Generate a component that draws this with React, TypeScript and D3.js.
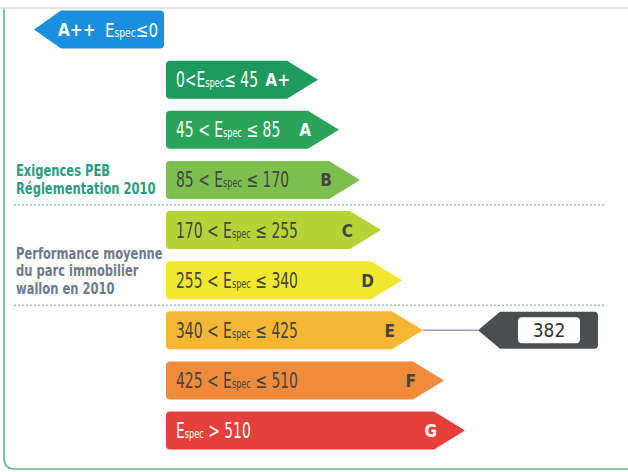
import React, { useEffect, useRef } from 'react';
import * as d3 from 'd3';

// energy classes, top to bottom
const classes = ['A++', 'A+', 'A', 'B', 'C', 'D', 'E', 'F', 'G'];
// upper bound of each class (G has none)
const upperBounds = [0, 45, 85, 170, 255, 340, 425, 510];
const classColors = ['#1b8ee0', '#1e9a5f', '#29a45a', '#7cbf4f', '#b6d336', '#f1e72e', '#f5b634', '#ef8b3b', '#e5403b'];
const labelColors = ['#fff', '#fff', '#fff', '#444', '#444', '#444', '#444', '#444', '#fff'];

const requirementLines = ['Exigences PEB', 'Réglementation 2010'];
const averageLines = ['Performance moyenne', 'du parc immobilier', 'wallon en 2010'];
const separatorsAfter = ['B', 'D'];

const buildingValue = 382;

const FONT = '"DejaVu Sans", sans-serif';
const SQUEEZE = 0.85; // narrow the font, the original uses a condensed face

const App: React.FC = () => {
  const svgRef = useRef<SVGSVGElement>(null);
  const width = 628;
  const height = 472;

  useEffect(() => {
    if (!svgRef.current) return;
    const svg = d3.select(svgRef.current);
    svg.selectAll('*').remove();

    const y = d3.scalePoint<string>().domain(classes).range([29.5, 430.5]);
    const tipX = d3.scaleLinear().domain([1, classes.length - 1]).range([318, 465]);
    const barH = 38;
    const barX = 166;
    const notch = 31;
    const r = 4;

    const txt = (x: number, yy: number, size: number, bold = false, sx = SQUEEZE) =>
      svg.append('text')
        .attr('transform', `translate(${x},${yy}) scale(${sx},1)`)
        .attr('font-family', FONT)
        .attr('font-weight', bold ? 'bold' : 'normal').attr('font-size', size);

    // frame
    svg.append('line')
      .attr('x1', 0).attr('x2', width).attr('y1', 8).attr('y2', 8)
      .attr('stroke', '#e2e2e2').attr('stroke-width', 2);
    svg.append('path')
      .attr('d', `M4,9 L4,458 Q4,469 15,469 L${width},469`)
      .attr('fill', 'none').attr('stroke', '#6cb381').attr('stroke-width', 1.6);

    // separators
    const sepY = separatorsAfter.map(c => {
      const i = classes.indexOf(c);
      return (y(classes[i])! + y(classes[i + 1])!) / 2;
    });
    sepY.forEach(sy => {
      svg.append('line')
        .attr('x1', 14).attr('x2', 606).attr('y1', sy).attr('y2', sy)
        .attr('stroke', '#5f9ea0').attr('stroke-width', 1).attr('stroke-dasharray', '2,2');
    });

    const espec = (t: d3.Selection<SVGTextElement, unknown, null, undefined>) => {
      t.append('tspan').text('E');
      t.append('tspan').attr('font-size', 12).text('spec');
    };

    const rangeLabel = (t: d3.Selection<SVGTextElement, unknown, null, undefined>, i: number) => {
      if (i === 0) {
        espec(t);
        t.append('tspan').text(`≤${upperBounds[0]}`);
        return;
      }
      if (i === classes.length - 1) {
        espec(t);
        t.append('tspan').text(` > ${upperBounds[upperBounds.length - 1]}`);
        return;
      }
      const sp = i === 1 ? '' : ' ';
      t.append('tspan').text(`${upperBounds[i - 1]}${sp}<${sp}`);
      espec(t);
      t.append('tspan').text(`${sp}≤${i === 1 ? ' ' : sp}${upperBounds[i]}`);
    };

    // A++ (points left)
    {
      const cy = y(classes[0])!;
      const y0 = cy - barH / 2, y1 = cy + barH / 2;
      const right = 164, tip = 34, bx = tip + 27;
      svg.append('path')
        .attr('d', `M${tip},${cy} L${bx},${y0} L${right - r},${y0} Q${right},${y0} ${right},${y0 + r} L${right},${y1 - r} Q${right},${y1} ${right - r},${y1} L${bx},${y1} Z`)
        .attr('fill', classColors[0]);
      txt(58, cy + 6.5, 18, true).attr('fill', labelColors[0]).text(classes[0]);
      const t = txt(105, cy + 7, 20, false, 0.76).attr('fill', labelColors[0]);
      rangeLabel(t, 0);
    }

    // A+ .. G (point right)
    classes.slice(1).forEach((c, k) => {
      const i = k + 1;
      const cy = y(c)!;
      const y0 = cy - barH / 2, y1 = cy + barH / 2;
      const tip = tipX(i);
      const bx = tip - notch;
      svg.append('path')
        .attr('d', `M${barX + r},${y0} L${bx},${y0} L${tip},${cy} L${bx},${y1} L${barX + r},${y1} Q${barX},${y1} ${barX},${y1 - r} L${barX},${y0 + r} Q${barX},${y0} ${barX + r},${y0} Z`)
        .attr('fill', classColors[i]);
      const t = txt(176, cy + 7.5, 20.5, false, 0.68).attr('fill', labelColors[i]);
      rangeLabel(t, i);
      txt(tip - 28, cy + 6.5, 18, true)
        .attr('text-anchor', 'end')
        .attr('fill', labelColors[i]).text(c);
    });

    // side notes
    const note = (lines: string[], lastBase: number, color: string, lh: number) => {
      lines.forEach((l, j) => {
        txt(16, lastBase - (lines.length - 1 - j) * lh, 16, true, 0.72)
          .attr('fill', color).text(l);
      });
    };
    note(requirementLines, sepY[0] - 11, '#2a9b84', 18);
    note(averageLines, sepY[1] - 11.5, '#6e7a8b', 17.5);

    // building value pointer
    const ci = upperBounds.findIndex(b => buildingValue <= b);
    const cls = ci === -1 ? classes.length - 1 : ci;
    const cy = y(classes[cls])!;
    const pTip = 478, pBody = 500, pRight = 598;
    const py0 = cy - barH / 2 + 0.5, py1 = cy + barH / 2 - 0.5;
    svg.append('line')
      .attr('x1', tipX(cls)).attr('x2', pTip).attr('y1', cy).attr('y2', cy)
      .attr('stroke', '#8d9cb8').attr('stroke-width', 1.5);
    svg.append('path')
      .attr('d', `M${pTip},${cy} L${pBody},${py0} L${pRight - r},${py0} Q${pRight},${py0} ${pRight},${py0 + r} L${pRight},${py1 - r} Q${pRight},${py1} ${pRight - r},${py1} L${pBody},${py1} Z`)
      .attr('fill', '#4b4e51');
    svg.append('rect')
      .attr('x', 518).attr('y', cy - 13).attr('width', 62).attr('height', 26).attr('rx', 4)
      .attr('fill', '#fff');
    txt(549, cy + 7, 20, false, 0.85)
      .attr('text-anchor', 'middle')
      .attr('fill', '#333').text(buildingValue);
  }, []);

  return (
    <svg ref={svgRef} width={width} height={height}
      style={{ position: 'absolute', left: 0, top: 0, background: '#fff' }} />
  );
};

export default App;
